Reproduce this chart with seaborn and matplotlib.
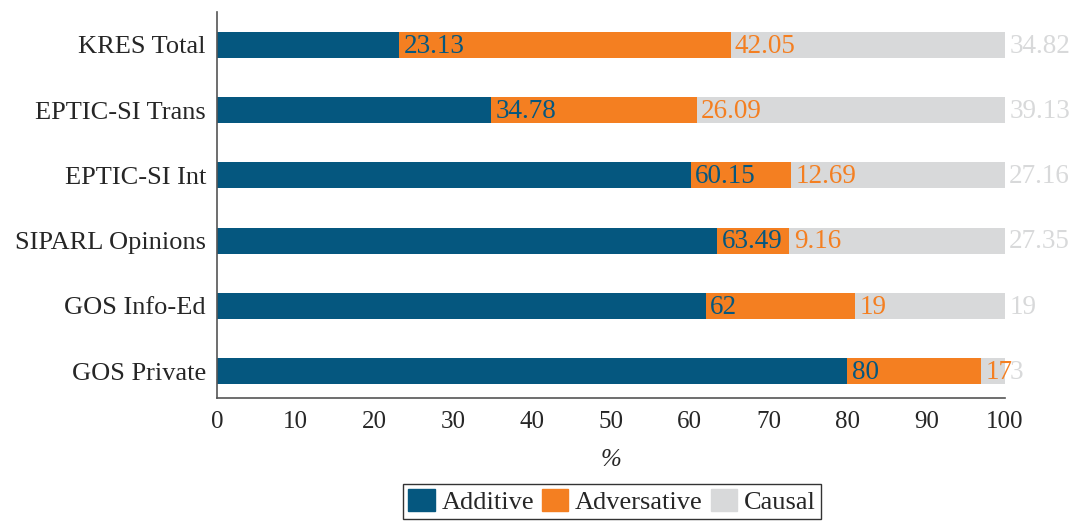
"""Stacked horizontal bars of connective types per corpus."""

import matplotlib.pyplot as plt
import numpy as np
import pandas as pd
import seaborn as sns

corpora = [
    "KRES Total",
    "EPTIC-SI Trans",
    "EPTIC-SI Int",
    "SIPARL Opinions",
    "GOS Info-Ed",
    "GOS Private",
]
additive = [23.13, 34.78, 60.15, 63.49, 62, 80]
adversative = [42.05, 26.09, 12.69, 9.16, 19, 17]
causal = [34.82, 39.13, 27.16, 27.35, 19, 3]

series = ["Additive", "Adversative", "Causal"]
colors = ["#05577f", "#f47f21", "#d8d9da"]
text_colors = ["#05577f", "#f47f21", "#d8d9da"]

df = pd.DataFrame(
    {"corpus": corpora, "Additive": additive, "Adversative": adversative, "Causal": causal}
)
df["cum_add"] = df["Additive"]
df["cum_adv"] = df["Additive"] + df["Adversative"]
df["cum_cau"] = df["cum_adv"] + df["Causal"]
cum_cols = ["cum_add", "cum_adv", "cum_cau"]

sns.set_style("white")
plt.rcParams["font.family"] = ["Liberation Serif", "DejaVu Serif"]

fig = plt.figure(figsize=(10.75, 5.22), dpi=100)
ax = fig.add_axes([217 / 1075, 1 - 398 / 522, (1005 - 217) / 1075, (398 - 12) / 522])

# draw from the widest (total) to the narrowest so the stacks show
for col, color in zip(cum_cols[::-1], colors[::-1]):
    sns.barplot(
        data=df, x=col, y="corpus", orient="h", color=color,
        width=0.4, saturation=1, linewidth=0, ax=ax,
    )

for col, vals, tc in zip(cum_cols, [additive, adversative, causal], text_colors):
    for i, (end, v) in enumerate(zip(df[col], vals)):
        ax.annotate(
            f"{v:g}", xy=(end, i), xytext=(3, -1), textcoords="offset points",
            ha="left", va="center", color=tc, fontsize=19.5,
        )

ax.set_xlim(0, 100)
ax.set_ylim(5.414, -0.506)
ax.set_xticks(np.arange(0, 101, 10))
ax.set_xlabel("%", fontsize=18, style="italic", labelpad=12)
ax.set_ylabel("")
ax.tick_params(axis="x", direction="in", length=6, color="#888888",
               labelsize=18, pad=9)
ax.tick_params(axis="y", length=0, labelsize=19, pad=8)
for side in ["top", "right"]:
    ax.spines[side].set_visible(False)
for side in ["left", "bottom"]:
    ax.spines[side].set_color("#555555")
    ax.spines[side].set_linewidth(1.2)

handles = [plt.Rectangle((0, 0), 1, 1, color=c) for c in colors]
leg = fig.legend(
    handles, series, loc="lower center", bbox_to_anchor=(612 / 1075, 0.0),
    ncol=3, frameon=True, fancybox=False, edgecolor="black", fontsize=19,
    handlelength=1.0, handleheight=0.9, handletextpad=0.25, columnspacing=0.3,
    borderpad=0.2, borderaxespad=0.1,
)
leg.get_frame().set_linewidth(1.0)

fig.savefig("out.png", dpi=100)
plt.close(fig)
